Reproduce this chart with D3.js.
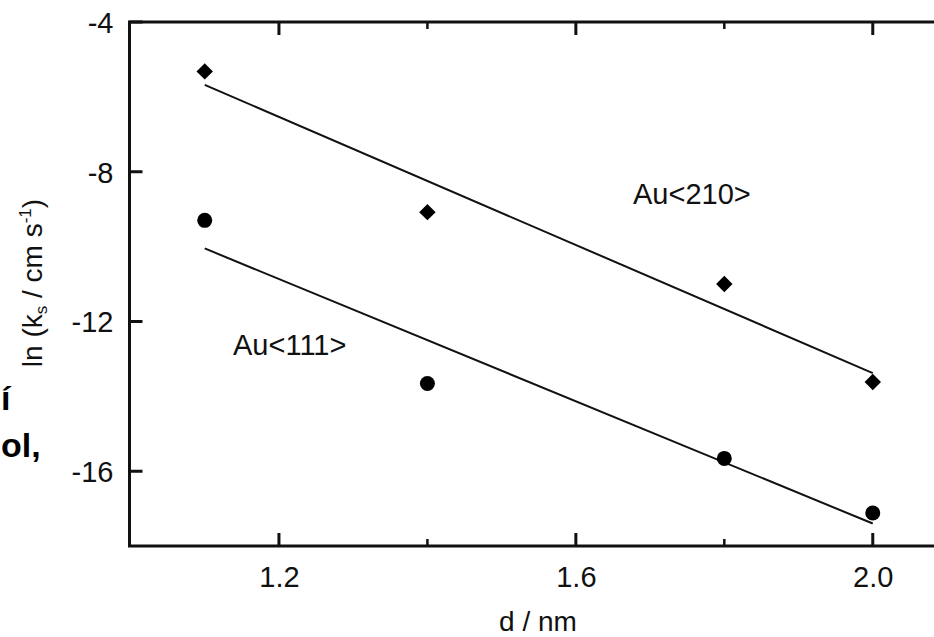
<!DOCTYPE html>
<html>
<head>
<meta charset="utf-8">
<script src="https://cdn.jsdelivr.net/npm/d3@7"></script>
<style>
  body { margin: 0; background: #fff; }
  svg { display: block; font-family: "Liberation Sans", Arial, sans-serif; }
</style>
</head>
<body>
<script>
// data
var dist = [1.1, 1.4, 1.8, 2.0];
var au210 = [-5.32, -9.08, -11.0, -13.62];
var au111 = [-9.30, -13.66, -15.66, -17.12];

// fitted straight lines, end points
var fitX = [1.1, 2.0];
var fit210 = [-5.68, -13.38];
var fit111 = [-10.05, -17.40];

var xTicks = [1.2, 1.6, 2.0];
var xMinor = [1.4, 1.8];
var yTicks = [-4, -8, -12, -16];

var w = 934, h = 637;

var svg = d3.select("body")
    .append("svg")
    .attr("width", w)
    .attr("height", h);

var x = d3.scaleLinear().domain([1.0, 2.1]).range([130.5, 947]);
var y = d3.scaleLinear().domain([-18, -4]).range([546, 22]);

var frameL = x(1.0) - 1, frameT = y(-4), frameB = y(-18);

// frame (right side falls off the page)
svg.append("rect")
    .attr("x", frameL)
    .attr("y", frameT)
    .attr("width", x(2.1) - x(1.0) + 20)
    .attr("height", frameB - frameT)
    .attr("fill", "none")
    .attr("stroke", "#111")
    .attr("stroke-width", 3);

function styleAxis(g) {
    g.select(".domain").remove();
    g.selectAll(".tick line").remove();
    g.selectAll(".tick text").attr("fill", "#111").style("font-size", "29px");
}

// tick labels, plain hyphen for minus like the original
svg.append("g")
    .attr("transform", "translate(" + frameL + ",0)")
    .call(d3.axisLeft(y).tickValues(yTicks).tickSize(0).tickPadding(16)
        .tickFormat(function (d) { return String(d); }))
    .call(styleAxis)
    .selectAll(".tick text").attr("dy", "0.36em");

svg.append("g")
    .attr("transform", "translate(0," + frameB + ")")
    .call(d3.axisBottom(x).tickValues(xTicks).tickSize(0).tickPadding(20)
        .tickFormat(d3.format(".1f")))
    .call(styleAxis);

// fit lines
var line = d3.line()
    .x(function (d) { return x(d[0]); })
    .y(function (d) { return y(d[1]); });

[fit210, fit111].forEach(function (f) {
    svg.append("path")
        .datum(d3.zip(fitX, f))
        .attr("d", line)
        .attr("fill", "none")
        .attr("stroke", "#111")
        .attr("stroke-width", 2);
});

// Au<210> diamonds
svg.selectAll(".dia")
    .data(d3.zip(dist, au210))
    .enter()
    .append("path")
    .attr("class", "dia")
    .attr("d", d3.symbol().type(d3.symbolSquare).size(135))
    .attr("transform", function (d) {
        return "translate(" + x(d[0]) + "," + y(d[1]) + ") rotate(45)";
    })
    .attr("fill", "#000");

// Au<111> circles
svg.selectAll(".dot")
    .data(d3.zip(dist, au111))
    .enter()
    .append("circle")
    .attr("class", "dot")
    .attr("cx", function (d) { return x(d[0]); })
    .attr("cy", function (d) { return y(d[1]); })
    .attr("r", 7.5)
    .attr("fill", "#000");

// inward tick marks, one path per side
var tickPath = "";
yTicks.forEach(function (d) {
    tickPath += "M" + frameL + "," + y(d) + "h13";
});
xTicks.forEach(function (d) {
    tickPath += "M" + x(d) + "," + frameT + "v13";
    tickPath += "M" + x(d) + "," + frameB + "v-13";
});
var minorPath = "";
xMinor.forEach(function (d) {
    minorPath += "M" + x(d) + "," + frameT + "v7";
    minorPath += "M" + x(d) + "," + frameB + "v-7";
});
svg.append("path")
    .attr("d", tickPath)
    .attr("fill", "none")
    .attr("stroke", "#111")
    .attr("stroke-width", 3);
svg.append("path")
    .attr("d", minorPath)
    .attr("fill", "none")
    .attr("stroke", "#111")
    .attr("stroke-width", 2.5);

// series labels
svg.append("text")
    .attr("x", 633).attr("y", 204)
    .attr("fill", "#111").style("font-size", "29px")
    .text("Au<210>");

svg.append("text")
    .attr("x", 233).attr("y", 355)
    .attr("fill", "#111").style("font-size", "29px")
    .text("Au<111>");

// axis titles
svg.append("text")
    .attr("x", 538).attr("y", 631)
    .attr("text-anchor", "middle")
    .attr("fill", "#111").style("font-size", "28px")
    .text("d / nm");

var yt = svg.append("text")
    .attr("transform", "translate(42,283) rotate(-90)")
    .attr("text-anchor", "middle")
    .attr("fill", "#111").style("font-size", "28px");
yt.append("tspan").text("ln (k");
yt.append("tspan").attr("dy", 5).style("font-size", "17px").text("s");
yt.append("tspan").attr("dy", -5).text(" / cm s");
yt.append("tspan").attr("dy", -11).style("font-size", "17px").text("-1");
yt.append("tspan").attr("dy", 11).text(")");

// bits of page text at the left edge
svg.append("text")
    .attr("x", 1).attr("y", 410)
    .attr("fill", "#000").style("font-size", "34px").style("font-weight", "bold")
    .text("í");

svg.append("text")
    .attr("x", 1).attr("y", 457)
    .attr("fill", "#000").style("font-size", "34px").style("font-weight", "bold")
    .text("ol,");
</script>
</body>
</html>
